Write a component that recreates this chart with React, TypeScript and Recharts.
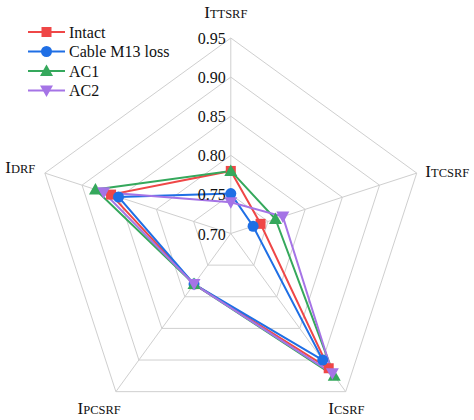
import React from "react";
import { RadarChart, Radar, PolarGrid, PolarAngleAxis, PolarRadiusAxis } from "recharts";

const AXES = ["TTSRF", "TCSRF", "CSRF", "PCSRF", "DRF"];
const INTACT = [0.78, 0.74, 0.913, 0.78, 0.861];
const CABLE_M13 = [0.751, 0.73, 0.9, 0.78, 0.851];
const AC1 = [0.78, 0.76, 0.925, 0.78, 0.882];
const AC2 = [0.74, 0.77, 0.921, 0.78, 0.871];
const RADIUS_DOMAIN = [0.7, 0.95];
const RADIUS_TICKS = [0.7, 0.75, 0.8, 0.85, 0.9, 0.95];

const SERIES = [
  { key: "intact", name: "Intact", values: INTACT, color: "#ef4747", shape: "square" },
  { key: "cable", name: "Cable M13 loss", values: CABLE_M13, color: "#1f6fe5", shape: "circle" },
  { key: "ac1", name: "AC1", values: AC1, color: "#35a85c", shape: "triangle" },
  { key: "ac2", name: "AC2", values: AC2, color: "#a574e6", shape: "triangleDown" },
];

const data = AXES.map((axis, i) => {
  const row: Record<string, any> = { axis };
  SERIES.forEach((s) => (row[s.key] = s.values[i]));
  return row;
});

const FF = '"Liberation Serif", "DejaVu Serif", serif';

// linear scale pinned to RADIUS_DOMAIN (recharts keeps nicing the radar domain up to 1.0)
function pinnedLinear(range: number[] = [0, 1]): any {
  let r = range;
  const [d0, d1] = RADIUS_DOMAIN;
  const scale: any = (v: number) => r[0] + ((v - d0) / (d1 - d0)) * (r[1] - r[0]);
  scale.domain = (d?: number[]) => (d === undefined ? RADIUS_DOMAIN : scale);
  scale.range = (next?: number[]) => {
    if (next === undefined) return r;
    r = next;
    return scale;
  };
  scale.copy = () => pinnedLinear(r);
  scale.ticks = () => RADIUS_TICKS;
  scale.tickFormat = () => (v: number) => String(v);
  scale.nice = () => scale;
  scale.clamp = () => scale;
  scale.invert = (px: number) => d0 + ((px - r[0]) / (r[1] - r[0])) * (d1 - d0);
  return scale;
}

function Marker({ x, y, shape, color }: { x: number; y: number; shape: string; color: string }) {
  if (shape === "square") return <rect x={x - 5} y={y - 5} width={10} height={10} fill={color} />;
  if (shape === "circle") return <circle cx={x} cy={y} r={5.5} fill={color} />;
  if (shape === "triangle")
    return <polygon points={`${x},${y - 6.5} ${x + 6.5},${y + 5} ${x - 6.5},${y + 5}`} fill={color} />;
  return <polygon points={`${x},${y + 6.5} ${x + 6.5},${y - 5} ${x - 6.5},${y - 5}`} fill={color} />;
}

// label offsets relative to tick anchor point, per axis
const LABEL_POS: Record<string, { dx: number; dy: number; anchor: string }> = {
  TTSRF: { dx: -5, dy: -12, anchor: "middle" },
  TCSRF: { dx: 1, dy: 6, anchor: "start" },
  CSRF: { dx: -4, dy: 16, anchor: "middle" },
  PCSRF: { dx: -12, dy: 16, anchor: "middle" },
  DRF: { dx: -2, dy: 2, anchor: "end" },
};

function AngleTick(props: any) {
  const { x, y, payload } = props;
  const p = LABEL_POS[payload.value] ?? { dx: 0, dy: 0, anchor: "middle" };
  return (
    <text x={x + p.dx} y={y + p.dy} textAnchor={p.anchor} fontFamily={FF} fill="#111">
      <tspan fontSize={17}>I</tspan>
      <tspan fontSize={12.5}>{payload.value}</tspan>
    </text>
  );
}

function RadiusTick(props: any) {
  const { x, y, payload } = props;
  return (
    <text x={x - 5} y={y + 6} textAnchor="end" fontFamily={FF} fontSize={16} fill="#111">
      {Number(payload.value).toFixed(2)}
    </text>
  );
}

function LegendBox() {
  return (
    <g>
      {SERIES.map((s, i) => {
        const y = 32 + i * 19.5;
        return (
          <g key={s.key}>
            <line x1={28} x2={65} y1={y} y2={y} stroke={s.color} strokeWidth={2} />
            <Marker x={46.5} y={y} shape={s.shape} color={s.color} />
            <text x={69} y={y + 5.5} fontFamily={FF} fontSize={16} fill="#111">
              {s.name}
            </text>
          </g>
        );
      })}
    </g>
  );
}

export default function App() {
  return (
    <div style={{ position: "absolute", left: 0, top: 0, width: 474, height: 420, background: "#fff", fontFamily: FF }}>
      <RadarChart
        width={474}
        height={420}
        data={data}
        cx={230.8}
        cy={233.5}
        outerRadius={195.5}
        margin={{ top: 0, right: 0, bottom: 0, left: 0 }}
      >
        <PolarGrid gridType="polygon" stroke="#cfcfcf" strokeWidth={1} />
        <PolarAngleAxis dataKey="axis" tick={<AngleTick />} tickLine={false} axisLine={false} />
        <PolarRadiusAxis
          angle={90}
          type="number"
          scale={pinnedLinear()}
          domain={RADIUS_DOMAIN as any}
          allowDataOverflow
          ticks={RADIUS_TICKS as any}
          tick={<RadiusTick />}
          axisLine={false}
          tickLine={false}
        />
        {SERIES.map((s) => (
          <Radar
            key={s.key}
            name={s.name}
            dataKey={s.key}
            stroke={s.color}
            strokeWidth={2}
            fill="none"
            fillOpacity={0}
            isAnimationActive={false}
            dot={(p: any) => <Marker key={`${s.key}-${p.index}`} x={p.cx} y={p.cy} shape={s.shape} color={s.color} />}
          />
        ))}
        <LegendBox />
      </RadarChart>
    </div>
  );
}
